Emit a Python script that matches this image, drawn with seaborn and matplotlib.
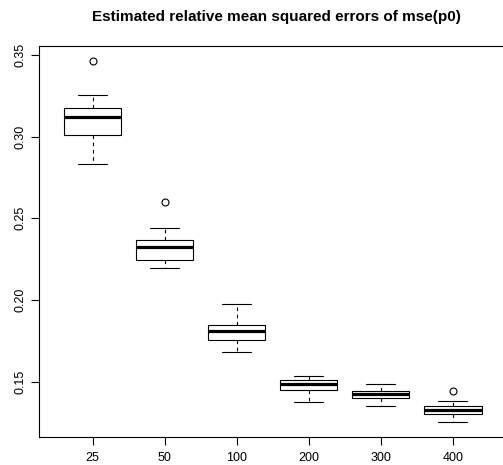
import matplotlib
matplotlib.use("Agg")
import matplotlib.pyplot as plt
import seaborn as sns
import pandas as pd

# sample sizes (categories)
sizes = ["25", "50", "100", "200", "300", "400"]

# reconstructed observations per group (read from box statistics)
mse_25 = [0.2830, 0.2920, 0.3010, 0.3065, 0.3118, 0.3150, 0.3177, 0.3255, 0.3465]
mse_50 = [0.2198, 0.2220, 0.2245, 0.2290, 0.2322, 0.2345, 0.2367, 0.2443, 0.2600]
mse_100 = [0.1685, 0.1720, 0.1759, 0.1790, 0.1810, 0.1830, 0.1849, 0.1900, 0.1975]
mse_200 = [0.1379, 0.1420, 0.1449, 0.1470, 0.1485, 0.1500, 0.1512, 0.1525, 0.1534]
mse_300 = [0.1352, 0.1380, 0.1400, 0.1410, 0.1424, 0.1435, 0.1447, 0.1470, 0.1487]
mse_400 = [0.1254, 0.1280, 0.1303, 0.1315, 0.1328, 0.1340, 0.1352, 0.1385, 0.1442]

y_ticks = [0.15, 0.20, 0.25, 0.30, 0.35]
y_ticklabels = ["0.15", "0.20", "0.25", "0.30", "0.35"]
title = "Estimated relative mean squared errors of mse(p0)"

groups = [mse_25, mse_50, mse_100, mse_200, mse_300, mse_400]
df = pd.DataFrame({
    "n": [s for s, g in zip(sizes, groups) for _ in g],
    "mse": [v for g in groups for v in g],
})

sns.set_style("ticks")
plt.rcParams["font.family"] = ["Liberation Sans", "DejaVu Sans"]
plt.rcParams["lines.scale_dashes"] = False
plt.rcParams["text.color"] = "black"

fig = plt.figure(figsize=(5.03, 4.65), dpi=100)
W, H = 503, 465
left_px, right_px, top_px, bottom_px = 39.3, 506.0, 46.0, 436.7
ax = fig.add_axes([left_px / W, 1 - bottom_px / H,
                   (right_px - left_px) / W, (bottom_px - top_px) / H])

lw = 0.8
sns.boxplot(
    data=df, x="n", y="mse", order=sizes, ax=ax,
    color="white", linecolor="black", linewidth=lw, width=0.8, whis=1.5,
    medianprops=dict(linewidth=2.3, color="black"),
    whiskerprops=dict(linestyle=(0, (2.6, 2.6)), linewidth=lw, color="black"),
    capprops=dict(linewidth=lw, color="black"),
    boxprops=dict(linewidth=lw, edgecolor="black", facecolor="white"),
    flierprops=dict(marker="o", markersize=5, markerfacecolor="none",
                    markeredgecolor="black", markeredgewidth=0.8),
)

ax.set_xlim(-0.74, 5.74)
ax.set_ylim(0.1165, 0.3554)
ax.set_yticks(y_ticks)
ax.set_yticklabels(y_ticklabels, rotation=90, va="center")
ax.set_xlabel("")
ax.set_ylabel("")
ax.tick_params(axis="both", direction="out", length=6, width=lw,
               labelsize=9, colors="black")
ax.tick_params(axis="x", pad=5)
ax.tick_params(axis="y", pad=3)
for sp in ax.spines.values():
    sp.set_visible(True)
    sp.set_color("black")
    sp.set_linewidth(lw)

fig.text((left_px + right_px) / 2 / W + 0.007, 1 - 17 / H, title,
         ha="center", va="center", fontsize=11, fontweight="bold",
         color="black")

fig.savefig("out.png", dpi=100)
